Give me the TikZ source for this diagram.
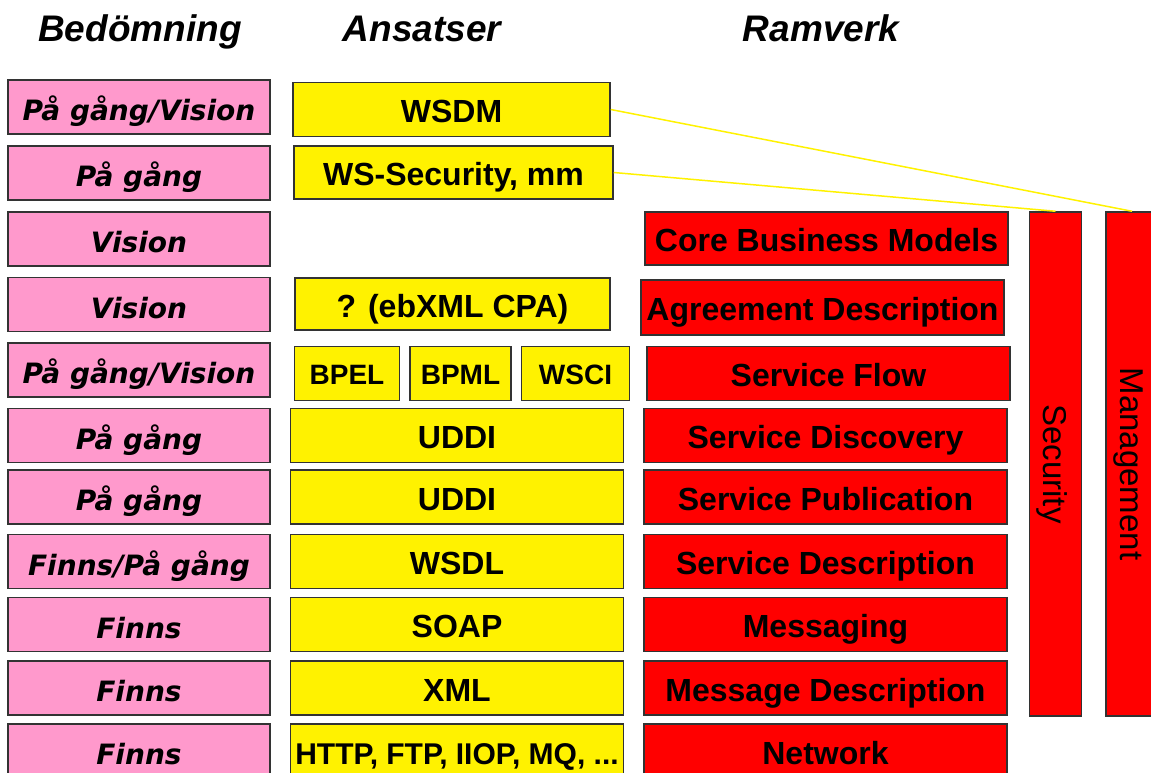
\documentclass[tikz,border=0pt]{standalone}
\usepackage{fontspec}
\setmainfont{Liberation Sans}
\newfontfamily\verdfont{DejaVu Sans}[BoldItalicFont={DejaVu Sans Bold Oblique}]
\usepackage{tikz}
\usetikzlibrary{positioning}
\definecolor{bedompink}{HTML}{FF99CC}
\tikzset{
  ruta/.style={draw=black!80, line width=1.5pt, inner sep=0pt, minimum height=54pt,
    text height=26pt, text depth=0pt},
  bedom/.style={ruta, fill=bedompink, minimum width=262pt, text height=27pt,
    font=\verdfont\bfseries\itshape\fontsize{28}{30}\selectfont},
  ansats/.style={ruta, fill=yellow, minimum width=333pt,
    font=\bfseries\fontsize{32}{34}\selectfont},
  smalansats/.style={ansats, text height=22pt,
    font=\bfseries\fontsize{28}{30}\selectfont},
  ramverk/.style={ruta, fill=red, minimum width=363pt,
    font=\bfseries\fontsize{32}{34}\selectfont},
  pelare/.style={ruta, fill=red, minimum width=504pt, minimum height=52pt,
    text height=24pt, rotate=-90, font=\fontsize{33}{35}\selectfont},
  rubrik/.style={anchor=base, font=\bfseries\itshape\fontsize{37}{40}\selectfont},
  linje/.style={yellow, line width=1.5pt}
}

\begin{document}
\begin{tikzpicture}[x=1pt, y=-1pt]
        \clip (0,0) rectangle (1151,772);

        % rubriker
        \node [rubrik] (RubrikBedom) at (140,41) {Bedömning};
        \node [rubrik] (RubrikAnsats) at (422,41) {Ansatser};
        \node [rubrik] (RubrikRam) at (821,41) {Ramverk};

        % bedömning
        \node [bedom] (BedomA) at (139,107) {På gång/Vision};
        \node [bedom] (BedomB) at (139,173) {På gång};
        \node [bedom] (BedomC) at (139,239) {Vision};
        \node [bedom] (BedomD) at (139,304.5) {Vision};
        \node [bedom] (BedomE) at (139,370) {På gång/Vision};
        \node [bedom] (BedomF) at (139,435.5) {På gång};
        \node [bedom] (BedomG) at (139,497) {På gång};
        \node [bedom] (BedomH) at (139,561.5) {Finns/På gång};
        \node [bedom] (BedomI) at (139,624.5) {Finns};
        \node [bedom] (BedomJ) at (139,688) {Finns};
        \node [bedom] (BedomK) at (139,751) {Finns};

        % ansatser
        \node [ansats, minimum width=317pt] (WSDM) at (451.5,109.5) {WSDM};
        \node [ansats, minimum width=319pt, minimum height=53pt] (WSSec) at (453.5,172.5) {WS-Security, mm};
        \node [ansats, minimum width=315pt, minimum height=52pt] (EbXML) at (452.5,304) {? (ebXML CPA)};
        \node [smalansats, minimum width=105pt, right=23pt of BedomE, yshift=-3.5pt] (BPEL) {BPEL};
        \node [smalansats, minimum width=101pt, right=9pt of BPEL] (BPML) {BPML};
        \node [smalansats, minimum width=108pt, right=9pt of BPML] (WSCI) {WSCI};
        \node [ansats, right=19pt of BedomF] (UDDIa) {UDDI};
        \node [ansats, right=19pt of BedomG] (UDDIb) {UDDI};
        \node [ansats, right=19pt of BedomH] (WSDL) {WSDL};
        \node [ansats, right=19pt of BedomI] (SOAP) {SOAP};
        \node [ansats, right=19pt of BedomJ] (XML) {XML};
        \node [ansats, right=19pt of BedomK,
            font=\bfseries\fontsize{30}{32}\selectfont] (Transport) {HTTP, FTP, IIOP, MQ, ...};

        % ramverk
        \node [ramverk, minimum height=53pt] (Core) at (826.5,238.5) {Core Business Models};
        \node [ramverk, minimum height=55pt] (Agreement) at (822.5,307.5) {Agreement Description};
        \node [ramverk, right=16pt of WSCI] (Flow) {Service Flow};
        \node [ramverk, right=19pt of UDDIa] (Discovery) {Service Discovery};
        \node [ramverk, right=19pt of UDDIb] (Publication) {Service Publication};
        \node [ramverk, right=19pt of WSDL] (Description) {Service Description};
        \node [ramverk, right=19pt of SOAP] (Messaging) {Messaging};
        \node [ramverk, right=19pt of XML] (MessDesc) {Message Description};
        \node [ramverk, right=19pt of Transport] (Network) {Network};

        % pelare (vridna, west = överkant)
        \node [pelare] (Sakerhet) at (1055.5,464) {Security};
        \node [pelare] (Hantering) at (1132,464) {Management};

        \draw [linje] (WSDM.east) -- (Hantering.west);
        \draw [linje] (WSSec.east) -- (Sakerhet.west);
\end{tikzpicture}
\end{document}
